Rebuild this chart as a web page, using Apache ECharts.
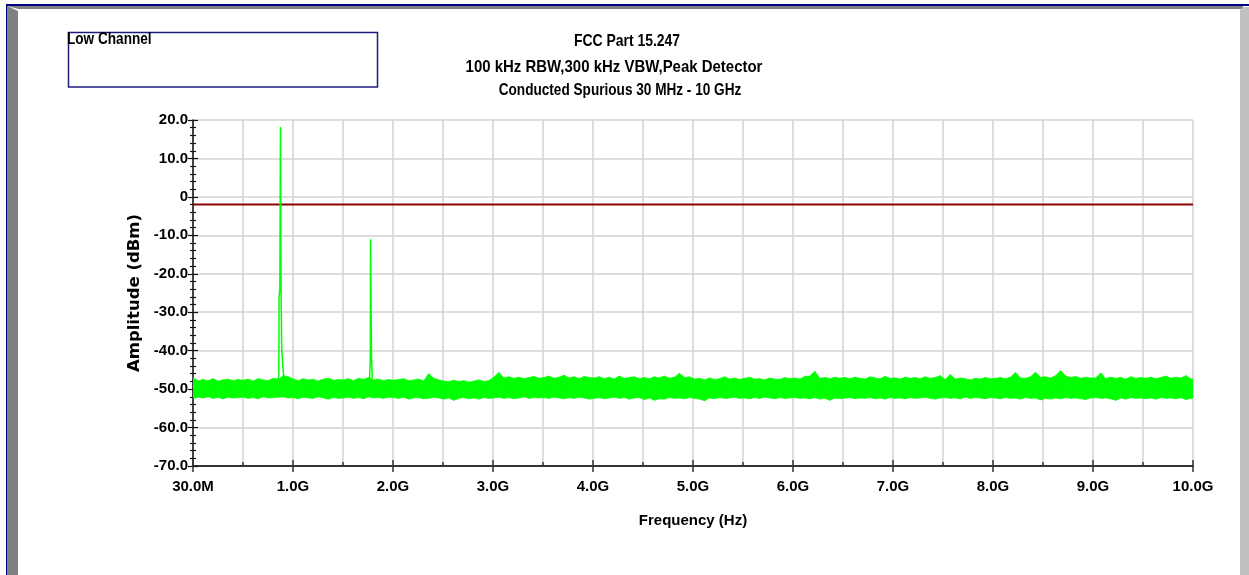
<!DOCTYPE html>
<html>
<head>
<meta charset="utf-8">
<title>FCC Part 15.247 – Conducted Spurious, Low Channel</title>
<script src="https://cdn.jsdelivr.net/npm/echarts@6.0.0/dist/echarts.min.js"></script>
<style>
  html, body { margin: 0; padding: 0; background: #ffffff; }
  #chart { width: 1249px; height: 575px; }
</style>
</head>
<body>
<div id="chart"></div>
<script>
// ---- Axis definitions ----------------------------------------------------
// Frequency axis runs 30 MHz .. 10 GHz in ten equal divisions (MHz).
const xTickFreqsMHz = [30, 1027, 2024, 3021, 4018, 5015, 6012, 7009, 8006, 9003, 10000];
const xTickLabels   = ['30.0M', '1.0G', '2.0G', '3.0G', '4.0G', '5.0G', '6.0G', '7.0G', '8.0G', '9.0G', '10.0G'];
const yMinDbm = -70;
const yMaxDbm = 20;
const yStepDbm = 10;

// ---- Limit line (dBm) ----------------------------------------------------
const limitDbm = -2.0;

// ---- Peak-hold noise floor: max / min of the trace per 50 MHz bin ---------
const sweepStartMHz = 30;
const sweepStepMHz = 50;
const noiseTopDbm = [
  -47.0, -47.9, -47.5, -47.8, -47.3, -47.9, -47.6, -47.4, -47.8, -47.5,
  -47.7, -47.4, -47.9, -47.3, -47.6, -47.8, -47.2, -47.5, -46.5, -46.8,
  -47.4, -47.8, -47.3, -47.6, -47.5, -47.9, -47.4, -47.2, -47.7, -47.5,
  -47.6, -47.3, -47.8, -47.2, -47.5, -47.0, -47.6, -47.4, -47.8, -47.5,
  -47.7, -47.5, -47.3, -47.8, -47.6, -47.4, -47.9, -46.0, -47.2, -47.6,
  -47.9, -48.1, -47.7, -48.0, -47.8, -48.2, -47.9, -47.6, -48.0, -47.8,
  -46.9, -45.7, -47.1, -46.8, -47.2, -46.9, -47.3, -47.0, -46.7, -47.2,
  -47.0, -46.6, -47.2, -46.9, -46.4, -47.1, -46.8, -47.3, -46.7, -47.0,
  -47.1, -46.8, -47.3, -46.9, -47.4, -46.6, -47.2, -47.0, -46.8, -47.3,
  -47.0, -47.3, -46.8, -47.1, -46.6, -47.2, -46.9, -45.9, -47.0, -46.8,
  -47.4, -47.2, -47.6, -47.1, -47.5, -47.3, -46.8, -47.4, -47.1, -47.5,
  -47.2, -46.9, -47.4, -47.3, -47.6, -47.1, -47.4, -47.5, -47.0, -47.3,
  -47.1, -47.4, -46.7, -46.6, -45.4, -47.2, -47.0, -47.3, -46.9, -47.2,
  -47.0, -47.3, -46.9, -47.2, -47.4, -46.8, -47.1, -47.3, -46.7, -47.2,
  -47.1, -47.4, -46.9, -47.2, -47.0, -47.3, -46.8, -47.2, -47.0, -46.5,
  -47.5, -46.2, -47.4, -47.1, -47.3, -47.6, -47.2, -47.4, -47.0, -47.3,
  -47.2, -47.0, -47.3, -46.9, -45.7, -47.1, -47.2, -46.8, -45.6, -46.9,
  -46.8, -47.1, -46.5, -45.2, -46.6, -47.0, -46.7, -47.2, -46.9, -47.1,
  -47.1, -45.8, -47.3, -46.9, -47.2, -47.0, -47.4, -46.8, -47.2, -47.0,
  -47.2, -46.9, -47.3, -47.0, -46.6, -47.2, -46.9, -47.1, -46.5, -47.4,
  -47.3
];
const noiseBottomDbm = [
  -52.4, -52.1, -52.3, -52.0, -52.4, -52.2, -52.5, -52.1, -52.3, -52.2,
  -52.1, -52.4, -52.2, -52.5, -52.0, -52.3, -52.2, -52.1, -52.0, -52.3,
  -52.2, -52.5, -52.1, -52.3, -52.4, -52.0, -52.3, -52.6, -52.2, -52.4,
  -52.3, -52.1, -52.4, -52.2, -52.5, -52.0, -52.3, -52.2, -52.4, -52.1,
  -52.2, -52.4, -52.1, -52.6, -52.3, -52.2, -52.5, -52.4, -52.1, -52.3,
  -52.6, -52.3, -52.9, -52.4, -52.2, -52.5, -52.3, -52.6, -52.2, -52.4,
  -52.3, -52.1, -52.4, -52.2, -52.5, -52.3, -52.0, -52.4, -52.2, -52.3,
  -52.2, -52.4, -52.1, -52.3, -52.5, -52.2, -52.4, -52.1, -52.3, -52.6,
  -52.4, -52.2, -52.5, -52.3, -52.1, -52.4, -52.2, -52.6, -52.3, -52.2,
  -52.7, -52.3, -52.9, -52.5, -52.6, -52.2, -52.4, -52.3, -52.5, -52.2,
  -52.4, -52.6, -53.0, -52.3, -52.5, -52.2, -52.4, -52.3, -52.1, -52.4,
  -52.3, -52.5, -52.2, -52.4, -52.1, -52.3, -52.5, -52.2, -52.4, -52.3,
  -52.2, -52.4, -52.3, -52.5, -52.2, -52.6, -52.4, -52.9, -52.3, -52.5,
  -52.3, -52.2, -52.5, -52.3, -52.4, -52.2, -52.5, -52.3, -52.6, -52.2,
  -52.4, -52.3, -52.5, -52.2, -52.4, -52.3, -52.1, -52.4, -52.6, -52.3,
  -52.2, -52.4, -52.3, -52.5, -52.1, -52.4, -52.2, -52.3, -52.5, -52.2,
  -52.3, -52.5, -52.2, -52.4, -52.3, -52.6, -52.2, -52.4, -52.3, -52.8,
  -52.4, -52.6, -52.3, -52.5, -52.2, -52.4, -52.3, -52.5, -52.7, -52.3,
  -52.2, -52.4, -52.3, -52.5, -52.9, -52.3, -52.6, -52.2, -52.4, -52.3,
  -52.5, -52.3, -52.6, -52.2, -52.4, -52.3, -52.5, -52.2, -52.7, -52.4,
  -52.3
];

// ---- Carrier (low channel) and its 2nd harmonic ---------------------------
const carrierFreqMHz = [875, 886, 888, 896, 902, 908, 911, 915, 928, 932, 940];
const carrierDbm     = [-47.6, -46.5, -26.0, -24.0, 18.2, -24.5, -25.0, -40.0, -40.5, -46.0, -47.2];
const harmonicFreqMHz = [1790, 1798, 1800, 1804, 1808, 1810, 1818];
const harmonicDbm     = [-47.5, -41.5, -11.0, -10.6, -11.0, -42.0, -47.3];

// ---- Styling -------------------------------------------------------------
const TRACE = '#00ff00';
const GRID_LINE = '#d2d2d2';
const AXIS_INK = '#333333';
const SANS = "'Liberation Sans', Arial, sans-serif";

const sweepFreqs = noiseTopDbm.map((_, i) => sweepStartMHz + i * sweepStepMHz);
const bandData = sweepFreqs.map((f, i) => [f, noiseTopDbm[i], noiseBottomDbm[i]]);
const carrierData = carrierFreqMHz.map((f, i) => [f, carrierDbm[i]]);
const harmonicData = harmonicFreqMHz.map((f, i) => [f, harmonicDbm[i]]);
const limitData = [[xTickFreqsMHz[0], limitDbm], [xTickFreqsMHz[xTickFreqsMHz.length - 1], limitDbm]];

// Filled band between the per-bin maximum and minimum of the trace.
function renderBand(params, api) {
  const i = params.dataIndex;
  if (i >= bandData.length - 1) return null;
  const a = bandData[i], b = bandData[i + 1];
  const pts = [
    api.coord([a[0], a[1]]), api.coord([b[0], b[1]]),
    api.coord([b[0], b[2]]), api.coord([a[0], a[2]])
  ];
  return {
    type: 'polygon',
    shape: { points: pts },
    style: { fill: TRACE, stroke: TRACE, lineWidth: 0.8 }
  };
}

// Condensed bold heading text (Liberation Sans squeezed horizontally).
function headingText(x, y, text, align, squeeze) {
  return {
    type: 'text', x: x, y: y, scaleX: squeeze, silent: true,
    style: { x: 0, y: 0, text: text, fill: '#000000', font: 'bold 17px ' + SANS,
             align: align, verticalAlign: 'middle' }
  };
}

const chart = echarts.init(document.getElementById('chart'), null, { renderer: 'canvas' });

const tickFont = { color: '#000000', fontFamily: SANS, fontWeight: 'bold', fontSize: 15 };

const option = {
  animation: false,
  backgroundColor: '#ffffff',
  grid: {
    left: 193, right: 56, top: 120, bottom: 109,
    containLabel: false, outerBoundsMode: 'none'
  },
  graphic: [
    // window frame
    { type: 'rect', shape: { x: 6, y: 4, width: 1243, height: 2 }, style: { fill: '#000080' }, silent: true },
    { type: 'rect', shape: { x: 6, y: 4, width: 1.5, height: 571 }, style: { fill: '#000080' }, silent: true },
    { type: 'polygon', shape: { points: [[7.5, 6], [1243, 6], [1243, 9], [18, 9]] }, style: { fill: '#808080' }, silent: true },
    { type: 'polygon', shape: { points: [[7.5, 6], [18, 11], [18, 575], [7.5, 575]] }, style: { fill: '#808080' }, silent: true },
    { type: 'polygon', shape: { points: [[1240, 10], [1243, 7], [1249, 7], [1249, 575], [1240, 575]] }, style: { fill: '#c0c0c0' }, silent: true },
    // legend box
    { type: 'rect', shape: { x: 68.5, y: 32.5, width: 309, height: 54.5 },
      style: { fill: 'none', stroke: '#1c1c80', lineWidth: 1.5 }, silent: true },
    headingText(67, 39, 'Low Channel', 'left', 0.8),
    // title block
    headingText(627, 41, 'FCC Part 15.247', 'center', 0.82),
    headingText(614, 67, '100 kHz RBW,300 kHz VBW,Peak Detector', 'center', 0.88),
    headingText(620, 90, 'Conducted Spurious 30 MHz - 10 GHz', 'center', 0.8)
  ],
  xAxis: [
    {
      type: 'value', position: 'bottom', min: xTickFreqsMHz[0], max: xTickFreqsMHz[xTickFreqsMHz.length - 1],
      name: 'Frequency (Hz)', nameLocation: 'middle', nameGap: 47,
      nameTextStyle: { color: '#000000', fontFamily: SANS, fontWeight: 'bold', fontSize: 15 },
      axisLine: { show: true, onZero: false, lineStyle: { color: AXIS_INK, width: 2 } },
      axisTick: { show: true, inside: false, length: 6, customValues: xTickFreqsMHz, lineStyle: { color: AXIS_INK, width: 1.5 } },
      axisLabel: Object.assign({ margin: 13, customValues: xTickFreqsMHz,
        formatter: v => { const i = xTickFreqsMHz.indexOf(v); return i >= 0 ? xTickLabels[i] : ''; } }, tickFont),
      splitLine: { show: false }
    },
    {
      // graticule: one line per half division
      type: 'value', position: 'bottom', min: 0, max: 10, interval: 1,
      axisLine: { show: false, onZero: false },
      axisLabel: { show: false },
      axisTick: { show: true, inside: true, length: 6, lineStyle: { color: AXIS_INK, width: 1.5 } },
      minorTick: { show: true, splitNumber: 2, length: 4, lineStyle: { color: AXIS_INK, width: 1.5 } },
      splitLine: { show: true, lineStyle: { color: GRID_LINE, width: 1.5 } },
      minorSplitLine: { show: true, lineStyle: { color: GRID_LINE, width: 1.5 } }
    }
  ],
  yAxis: [
    {
      type: 'value', position: 'left', min: yMinDbm, max: yMaxDbm, interval: yStepDbm,
      name: 'Amplitude (dBm)', nameLocation: 'middle', nameGap: 34, nameRotate: 90,
      nameTextStyle: { color: '#000000', fontFamily: "'DejaVu Sans', sans-serif", fontWeight: 'bold', fontSize: 16.5 },
      axisLine: { show: true, onZero: false, lineStyle: { color: '#111111', width: 1.5 } },
      axisTick: { show: true, inside: false, length: 5, lineStyle: { color: '#111111', width: 1.2 } },
      minorTick: { show: true, splitNumber: 5, length: 3, lineStyle: { color: '#111111', width: 1.2 } },
      axisLabel: Object.assign({ margin: 5, formatter: v => (v === 0 ? '0' : v.toFixed(1)) }, tickFont),
      splitLine: { show: true, lineStyle: { color: GRID_LINE, width: 1.5 } }
    },
    {
      // inner half of the crossing ticks
      type: 'value', position: 'left', min: yMinDbm, max: yMaxDbm, interval: yStepDbm,
      axisLine: { show: false, onZero: false },
      axisLabel: { show: false },
      axisTick: { show: true, inside: true, length: 5, lineStyle: { color: '#111111', width: 1.2 } },
      minorTick: { show: true, splitNumber: 5, length: 3, lineStyle: { color: '#111111', width: 1.2 } },
      splitLine: { show: false }
    }
  ],
  series: [
    {
      name: 'Limit', type: 'line', data: limitData, symbol: 'none', silent: true, z: 2,
      lineStyle: { color: '#8b0000', width: 2 }
    },
    {
      name: 'Noise floor', type: 'custom', data: bandData, renderItem: renderBand,
      encode: { x: 0, y: [1, 2] }, clip: true, silent: true, z: 3
    },
    {
      name: 'Carrier', type: 'line', data: carrierData, symbol: 'none', silent: true, z: 4,
      lineStyle: { color: TRACE, width: 1.5 }
    },
    {
      name: '2nd harmonic', type: 'line', data: harmonicData, symbol: 'none', silent: true, z: 4,
      lineStyle: { color: TRACE, width: 1.5 }
    }
  ]
};

chart.setOption(option);
</script>
</body>
</html>
